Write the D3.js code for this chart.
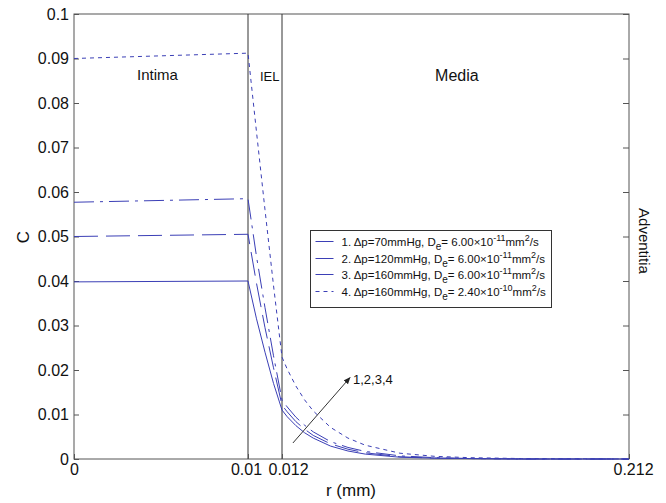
<!DOCTYPE html>
<html>
<head>
<meta charset="utf-8">
<script src="https://cdn.jsdelivr.net/npm/d3@7"></script>
<style>
body { margin: 0; background: #fff; }
text { font-family: "Liberation Sans", Arial, sans-serif; fill: #111; }
</style>
</head>
<body>
<div id="chart"></div>
<script>
const width = 666;
const height = 503;

// radial position (mm) shared by all curves
const r = [0, 0.01, 0.0105, 0.011, 0.0115, 0.012, 0.015, 0.02, 0.025, 0.03,
    0.04, 0.05, 0.06, 0.08, 0.1, 0.12, 0.15, 0.212];

// concentration C for each case
const c70 = [0.0398, 0.0400, 0.0315, 0.0240, 0.0170, 0.0110, 0.0095, 0.0075, 0.0059, 0.0047,
    0.0029, 0.0018, 0.0011, 0.0004, 0.0002, 0.0001, 0, 0];
const c120 = [0.0500, 0.0505, 0.0395, 0.0295, 0.0205, 0.0121, 0.0106, 0.0084, 0.0067, 0.0053,
    0.0034, 0.0022, 0.0014, 0.0005, 0.0002, 0.0001, 0, 0];
const c160 = [0.0577, 0.0585, 0.0455, 0.0340, 0.0232, 0.0133, 0.0117, 0.0094, 0.0076, 0.0061,
    0.0039, 0.0026, 0.0017, 0.0007, 0.0003, 0.0001, 0, 0];
const c160hi = [0.0900, 0.0912, 0.0735, 0.0560, 0.0390, 0.0229, 0.0202, 0.0164, 0.0133, 0.0108,
    0.0071, 0.0047, 0.0031, 0.0013, 0.0006, 0.0003, 0.0001, 0];

const seriesNames = ["1", "2", "3", "4"];
const pressures = ["70", "120", "160", "160"];
const diffMant = ["6.00", "6.00", "6.00", "2.40"];
const diffExp = ["-11", "-11", "-11", "-10"];

const xTicks = [0, 0.01, 0.012, 0.212];
const xTickLabels = ["0", "0.01", "0.012", "0.212"];
const yTicks = [0, 0.01, 0.02, 0.03, 0.04, 0.05, 0.06, 0.07, 0.08, 0.09, 0.1];
const yTickLabels = ["0", "0.01", "0.02", "0.03", "0.04", "0.05", "0.06", "0.07", "0.08", "0.09", "0.1"];

const layers = [0.01, 0.012];

const pLeft = 74, pRight = 629, pTop = 14, pBottom = 459;

// piecewise scale: intima, IEL and media get their own widths
const x = d3.scaleLinear()
    .domain([0, 0.01, 0.012, 0.212])
    .range([pLeft, 248, 282, pRight]);
const y = d3.scaleLinear()
    .domain([0, 0.1])
    .range([pBottom, pTop]);

const blue = "#3b3fb6";
const dashes = [null, "24,8", "20,6,3,6", "4,4"];
const allSeries = [c70, c120, c160, c160hi];

const svg = d3.select("#chart")
    .append("svg")
    .attr("width", width)
    .attr("height", height);

// frame
svg.append("rect")
    .attr("x", pLeft).attr("y", pTop)
    .attr("width", pRight - pLeft).attr("height", pBottom - pTop)
    .attr("fill", "none")
    .attr("stroke", "#555");

// layer boundaries
svg.selectAll(".layer")
    .data(layers)
    .enter().append("line")
    .attr("x1", d => x(d)).attr("x2", d => x(d))
    .attr("y1", pTop).attr("y2", pBottom)
    .attr("stroke", "#333");

// axes
const yAxis = svg.append("g")
    .attr("transform", `translate(${pLeft},0)`)
    .call(d3.axisLeft(y).tickValues(yTicks)
        .tickFormat((d, i) => yTickLabels[i])
        .tickSizeInner(-5).tickSizeOuter(0).tickPadding(5));
const yAxisR = svg.append("g")
    .attr("transform", `translate(${pRight},0)`)
    .call(d3.axisRight(y).tickValues(yTicks)
        .tickFormat("").tickSizeInner(-6).tickSizeOuter(0));
const xAxis = svg.append("g")
    .attr("transform", `translate(0,${pBottom})`)
    .call(d3.axisBottom(x).tickValues(xTicks)
        .tickFormat((d, i) => xTickLabels[i])
        .tickSizeInner(-5).tickSizeOuter(0).tickPadding(5));

[yAxis, yAxisR, xAxis].forEach(g => {
    g.select(".domain").remove();
    g.selectAll("line").attr("stroke", "#555");
    g.selectAll("text")
        .style("font-family", "'Liberation Sans', Arial, sans-serif")
        .style("font-size", "16px")
        .attr("fill", "#111");
});
// the two close labels sit a bit apart in the original
xAxis.selectAll("text").filter((d) => d === 0.01).attr("dx", -2);
xAxis.selectAll("text").filter((d) => d === 0.012).attr("dx", 6);
xAxis.selectAll("text").filter((d) => d === 0.212).attr("dx", 4);

// curves
const line = d3.line()
    .x((d, i) => x(r[i]))
    .y(d => y(d));

svg.selectAll(".curve")
    .data(allSeries)
    .enter().append("path")
    .attr("d", line)
    .attr("fill", "none")
    .attr("stroke", blue)
    .attr("stroke-width", 1)
    .attr("stroke-dasharray", (d, i) => dashes[i]);

// region labels
svg.append("text").attr("x", x(0.0048)).attr("y", y(0.0851))
    .attr("text-anchor", "middle").style("font-size", "15px").text("Intima");
svg.append("text").attr("x", x(0.01128)).attr("y", y(0.0849))
    .attr("text-anchor", "middle").style("font-size", "13px").text("IEL");
svg.append("text").attr("x", x(0.1128)).attr("y", y(0.0849))
    .attr("text-anchor", "middle").style("font-size", "16px").text("Media");
svg.append("text")
    .attr("transform", `translate(${pRight + 10},241) rotate(90)`)
    .attr("text-anchor", "middle").style("font-size", "15px").text("Adventitia");

// axis titles
svg.append("text")
    .attr("x", 351).attr("y", 496)
    .attr("text-anchor", "middle").style("font-size", "17px").text("r (mm)");
svg.append("text")
    .attr("transform", "translate(29,237) rotate(-90)")
    .attr("text-anchor", "middle").style("font-size", "17px").text("C");

// arrow annotation
const arrowFrom = [0.0183, 0.0036];
const arrowTo = [0.0512, 0.0183];
svg.append("defs").append("marker")
    .attr("id", "head")
    .attr("viewBox", "0 0 10 10")
    .attr("refX", 9).attr("refY", 5)
    .attr("markerWidth", 7).attr("markerHeight", 7)
    .attr("orient", "auto")
    .append("path").attr("d", "M0,1L10,5L0,9Z").attr("fill", "#222");
svg.append("line")
    .attr("x1", x(arrowFrom[0])).attr("y1", y(arrowFrom[1]))
    .attr("x2", x(arrowTo[0])).attr("y2", y(arrowTo[1]))
    .attr("stroke", "#333")
    .attr("marker-end", "url(#head)");
svg.append("text")
    .attr("x", x(arrowTo[0]) + 3).attr("y", y(arrowTo[1]) + 6)
    .style("font-size", "13px").text("1,2,3,4");

// legend
const lg = svg.append("g").attr("transform", "translate(310.5,230.5)");
lg.append("rect")
    .attr("width", 241).attr("height", 77)
    .attr("fill", "#fff").attr("stroke", "#333");
const entry = lg.selectAll(".entry")
    .data(seriesNames)
    .enter().append("g")
    .attr("transform", (d, i) => `translate(0,${Math.round(11 + i * 16.7)})`);
entry.append("line")
    .attr("x1", 5).attr("x2", 23)
    .attr("stroke", blue)
    .attr("stroke-dasharray", (d, i) => dashes[i]);
const lt = entry.append("text")
    .attr("x", 31).attr("y", 4)
    .style("font-size", "11.5px");
lt.append("tspan").text((d, i) => `${d}. \u0394p=${pressures[i]}mmHg, D`);
lt.append("tspan").attr("dy", 4).style("font-size", "10px").text("e");
lt.append("tspan").attr("dy", -4).text((d, i) => `= ${diffMant[i]}\u00d710`);
lt.append("tspan").attr("dy", -5).style("font-size", "9px").text((d, i) => diffExp[i]);
lt.append("tspan").attr("dy", 5).text("mm");
lt.append("tspan").attr("dy", -5).style("font-size", "9px").text("2");
lt.append("tspan").attr("dy", 5).text("/s");
</script>
</body>
</html>
